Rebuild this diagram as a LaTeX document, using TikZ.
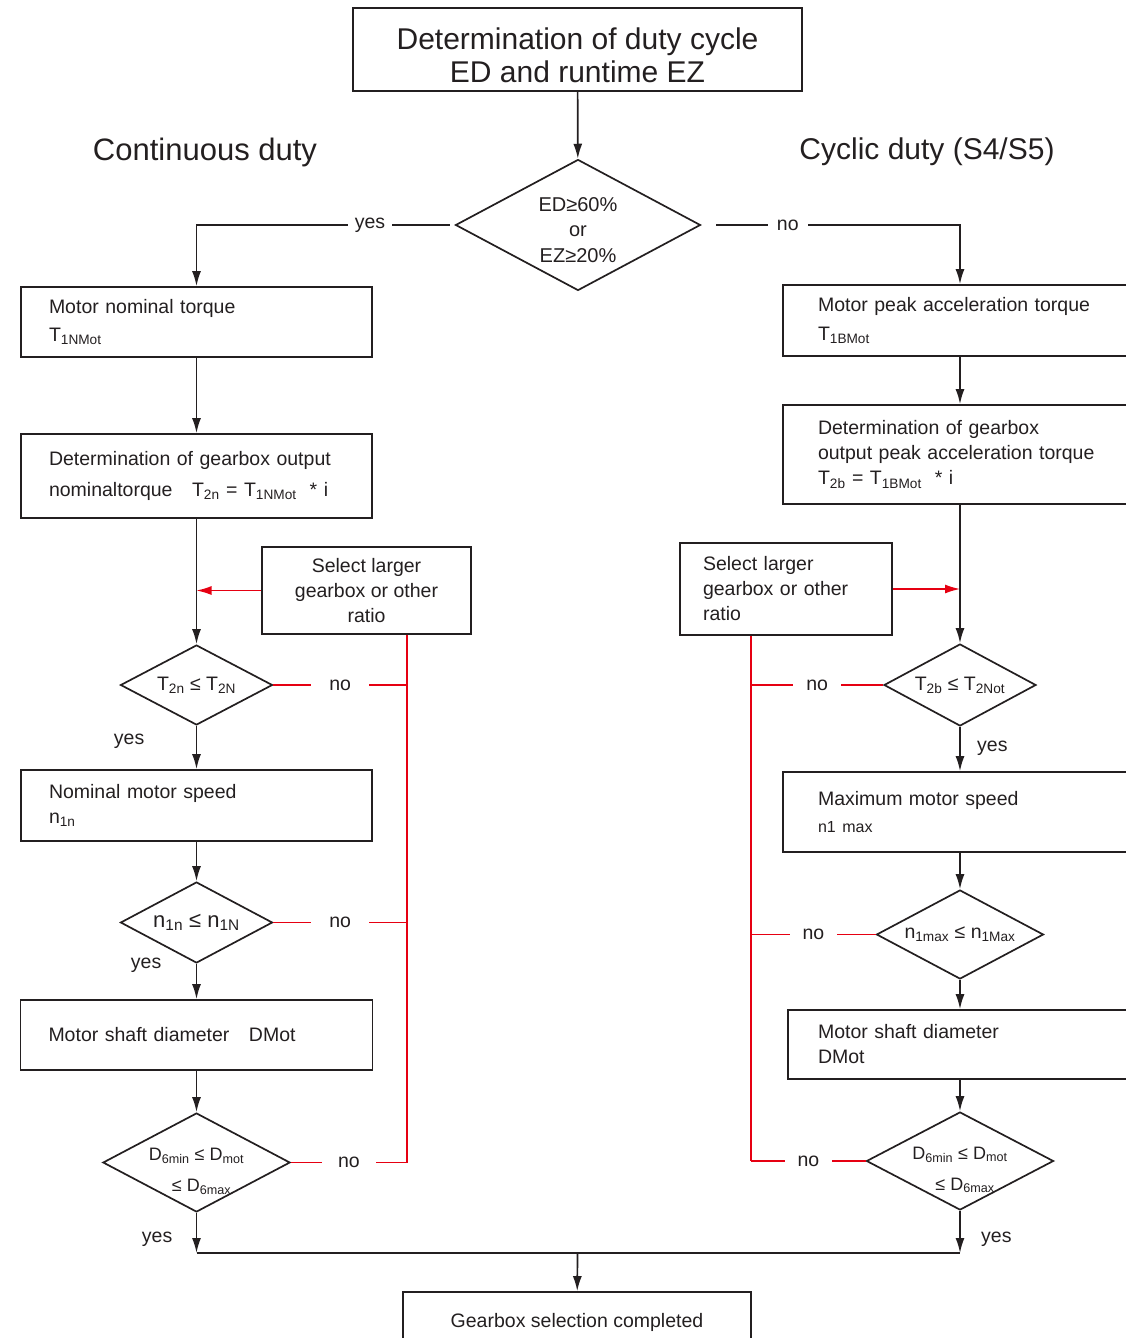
\documentclass[tikz,border=0pt]{standalone}
\usepackage{fontspec}
\setmainfont{Liberation Sans}
\usetikzlibrary{shapes.geometric,arrows.meta}
\definecolor{ink}{RGB}{35,31,32}
\definecolor{alarm}{RGB}{230,0,18}

\begin{document}
\begin{tikzpicture}[x=1pt,y=-1pt,line width=1.7pt,color=ink,
    >={Latex[length=15pt,width=9pt]},
    font=\fontsize{19.5}{25}\selectfont,
    block/.style={draw,rectangle,inner xsep=28pt,align=left},
    choice/.style={draw,diamond,aspect=2,inner sep=-6pt,align=center},
    tag/.style={fill=white,inner ysep=1pt},
    back/.style={draw=alarm,line width=1.4pt}]
    \useasboundingbox (0,0) rectangle (1126,1338);
    \clip (0,0) rectangle (1126,1338);

    \node[block,align=center,inner xsep=0pt,minimum width=449pt,minimum height=83pt,font=\fontsize{30}{33}\selectfont] (top) at (577.5,49.5) {\rule{0pt}{34pt}Determination of duty cycle\\ED and runtime EZ};
    \node[font=\fontsize{31}{36}\selectfont] (cont) at (205,152) {Continuous duty};
    \node[font=\fontsize{30}{36}\selectfont] (cyc) at (927,152) {Cyclic duty (S4/S5)};
    \node[choice,minimum width=245pt,minimum height=131pt,font=\fontsize{20}{25.5}\selectfont] (d0) at (578,225) {\rule{0pt}{24pt}ED≥60\%\\or\\EZ≥20\%};

    % continuous duty
    \node[block,text width=295pt,minimum height=70pt] (mnt) at (196.5,322) {Motor nominal torque\\[3pt]T\textsubscript{1NMot}};
    \node[block,text width=295pt,minimum height=84pt] (gout) at (196.5,476) {Determination of gearbox output\\[6pt]nominaltorque\quad T\textsubscript{2n} = T\textsubscript{1NMot}\ \ * i};
    \node[block,align=center,inner xsep=6pt,minimum width=209pt,minimum height=87pt] (sell) at (366.5,590.5) {Select larger\\gearbox or other\\ratio};
    \node[choice,minimum width=152pt,minimum height=80pt] (t2n) at (196.5,685) {T\textsubscript{2n} ≤ T\textsubscript{2N}};
    \node[block,text width=295pt,minimum height=71pt] (nms) at (196.5,805.5) {Nominal motor speed\\n\textsubscript{1n}};
    \node[choice,minimum width=152pt,minimum height=81pt,font=\fontsize{22}{25}\selectfont] (n1n) at (196.5,922.5) {n\textsubscript{1n} ≤ n\textsubscript{1N}};
    \node[block,text width=296pt,minimum height=70pt] (dsl) at (196.5,1035) {Motor shaft diameter\quad DMot};
    \node[choice,minimum width=184pt,minimum height=99pt,font=\fontsize{18}{31}\selectfont] (dml) at (196.5,1162.5) {\rule{0pt}{30pt}D\textsubscript{6min} ≤ D\textsubscript{mot}\\\ \ ≤ D\textsubscript{6max}};

    % cyclic duty
    \node[block,inner xsep=35pt,text width=284pt,minimum height=71pt] (mpt) at (960,320.5) {Motor peak acceleration torque\\[4pt]T\textsubscript{1BMot}};
    \node[block,inner xsep=35pt,text width=284pt,minimum height=99pt] (gpk) at (960,454.5) {Determination of gearbox\\output peak acceleration torque\\T\textsubscript{2b} = T\textsubscript{1BMot}\ \ * i};
    \node[block,inner xsep=23pt,text width=166pt,minimum height=92pt] (selr) at (786,589) {Select larger\\gearbox or other\\ratio};
    \node[choice,minimum width=152pt,minimum height=82pt] (t2b) at (960,685) {T\textsubscript{2b} ≤ T\textsubscript{2Not}};
    \node[block,inner xsep=35pt,text width=284pt,minimum height=80pt] (mms) at (960,812) {Maximum motor speed\\[2pt]{\fontsize{16}{20}\selectfont n1 max}};
    \node[choice,minimum width=167pt,minimum height=89pt] (n1m) at (960,934.5) {n\textsubscript{1max} ≤ n\textsubscript{1Max}};
    \node[block,inner xsep=30pt,text width=284pt,minimum height=69pt] (dsr) at (960,1044.5) {Motor shaft diameter\\DMot};
    \node[choice,minimum width=184pt,minimum height=98pt,font=\fontsize{18}{31}\selectfont] (dmr) at (960,1161) {\rule{0pt}{30pt}D\textsubscript{6min} ≤ D\textsubscript{mot}\\\ \ ≤ D\textsubscript{6max}};

    \node[block,align=center,minimum width=348pt,minimum height=60pt] (done) at (577,1322) {Gearbox selection completed};

    \coordinate (join) at (577.5,1253);
    \coordinate (busl) at ([xshift=-65pt]sell.south east);
    \coordinate (busr) at ([xshift=72pt]selr.south west);

    \draw[->] (top) -- (d0);
    \draw[->,shorten <=5pt] (d0.west) -| node[tag,pos=0.164,inner xsep=7pt]{yes} (mnt);
    \draw[->,shorten <=15pt] (d0.east) -| node[tag,pos=0.167,inner xsep=9pt]{no} (mpt);

    \draw[->] (mnt) -- (gout);
    \draw[->] (gout) -- (t2n);
    \draw[->,back] (sell) -- (sell -| t2n);
    \draw[->] (t2n) -- node[pos=0.36,left=48pt]{yes} (nms);
    \draw[->] (nms) -- (n1n);
    \draw[->] (n1n) -- node[pos=0.03,left=31pt]{yes} (dsl);
    \draw[->] (dsl) -- (dml);
    \draw[->] (dml) -- node[pos=0.66,left=20pt]{yes} (dml |- join);

    \draw[->] (mpt) -- (gpk);
    \draw[->] (gpk) -- (t2b);
    \draw[->,back] (selr) -- (selr -| t2b);
    \draw[->] (t2b) -- node[pos=0.48,right=13pt]{yes} (mms);
    \draw[->] (mms) -- (n1m);
    \draw[->] (n1m) -- (dsr);
    \draw[->] (dsr) -- (dmr);
    \draw[->] (dmr) -- node[pos=0.67,right=17pt]{yes} (dmr |- join);

    \draw[line width=2.6pt] (dml |- join) -- (dmr |- join);
    \draw[->] (join) -- (done);

    % back to a larger gearbox
    \draw[back,line width=2.6pt] (busl) -- (busl |- dml);
    \draw[back] (t2n.east) -- node[tag,inner xsep=18pt]{no} (t2n -| busl);
    \draw[back] (n1n.east) -- node[tag,inner xsep=18pt]{no} (n1n -| busl);
    \draw[back] (dml.east) -- node[tag,inner xsep=16pt]{no} (dml -| busl);
    \draw[back,line width=2.6pt] (busr) -- (busr |- dmr);
    \draw[back] (t2b.west) -- node[tag,inner xsep=13pt]{no} (t2b -| busr);
    \draw[back] (n1m.west) -- node[tag,inner xsep=13pt]{no} (n1m -| busr);
    \draw[back] (dmr.west) -- node[tag,inner xsep=13pt]{no} (dmr -| busr);
\end{tikzpicture}
\end{document}
